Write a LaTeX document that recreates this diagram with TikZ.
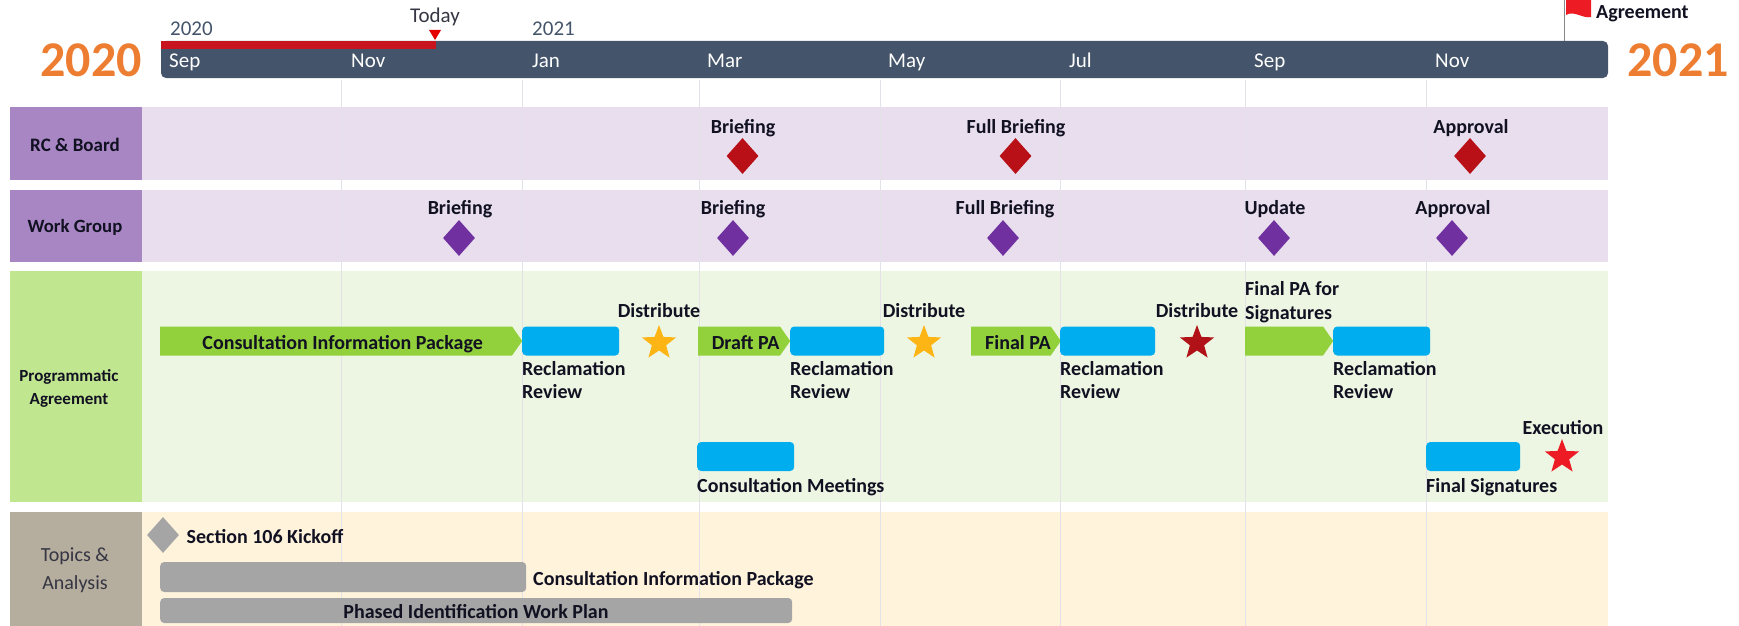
\documentclass[tikz,border=0pt]{standalone}
\usepackage{fontspec}
\setmainfont{Carlito}
\usetikzlibrary{shapes.geometric,shapes.symbols}
\definecolor{barc}{HTML}{44546A}
\definecolor{redbar}{HTML}{C8141E}
\definecolor{yearc}{HTML}{ED7D31}
\definecolor{purl}{HTML}{A886C4}
\definecolor{purr}{HTML}{E8DEEE}
\definecolor{grnl}{HTML}{C1E690}
\definecolor{grnr}{HTML}{EDF6E3}
\definecolor{topl}{HTML}{B5AD9D}
\definecolor{topr}{HTML}{FFF3DC}
\definecolor{gridc}{HTML}{E2E2E8}
\definecolor{blueb}{HTML}{00ADEF}
\definecolor{greena}{HTML}{92D13C}
\definecolor{greyb}{HTML}{A5A5A5}
\definecolor{darkred}{HTML}{B81016}
\definecolor{darkstar}{HTML}{B01218}
\definecolor{vio}{HTML}{7030A0}
\definecolor{gold}{HTML}{FDB515}
\definecolor{brightred}{HTML}{ED1C24}
\definecolor{txt}{HTML}{111122}
\tikzset{
  rowbg/.style={anchor=north west,inner sep=0pt,outer sep=0pt},
  boldt/.style={font=\fontsize{20}{23.3}\selectfont\bfseries,text=txt,inner sep=0pt,text height=16pt,text depth=3pt},
  boldl/.style={boldt,anchor=west,align=left},
  rowlab/.style={font=\fontsize{#1}{23.3}\selectfont\bfseries,text=txt,inner sep=0pt,align=center,text height=16pt,text depth=3pt},
  month/.style={font=\fontsize{21}{24}\selectfont,text=white,inner sep=0pt,anchor=base west},
  yeart/.style={font=\fontsize{21}{24}\selectfont,text=barc,inner sep=0pt,anchor=base west},
  bigyear/.style={font=\fontsize{50}{50}\selectfont\bfseries,text=yearc,inner sep=0pt},
  dia/.style={diamond,aspect=0.89,inner sep=0pt,minimum width=32pt,minimum height=36pt,fill=#1},
  starm/.style={star,star points=5,star point ratio=2.4,inner sep=0pt,minimum size=36pt,fill=#1},
  bluebox/.style={fill=blueb,rounded corners=4pt,inner sep=0pt,minimum height=29pt,anchor=west},
  greenarrow/.style={signal,signal to=east,signal from=nowhere,signal pointer angle=110,fill=greena,
     inner sep=0pt,minimum height=29pt,anchor=west,boldt,text height=20pt},
  greybar/.style={fill=greyb,rounded corners=4pt,inner sep=0pt,anchor=west,boldt},
  gridl/.style={draw=gridc,line width=0.8pt}
}
\begin{document}
\begin{tikzpicture}[x=1pt,y=-1pt]
\useasboundingbox (0,0) rectangle (1739,626);
% rows
\fill[purr] (142,107) rectangle (1608,180);
\fill[purr] (142,190) rectangle (1608,262);
\fill[grnr] (142,271) rectangle (1608,502);
\fill[topr] (142,512) rectangle (1608,626);
\fill[purl] (10,107) rectangle (142,180);
\fill[purl] (10,190) rectangle (142,262);
\fill[grnl] (10,271) rectangle (142,502);
\fill[topl] (10,512) rectangle (142,626);
% grid
\foreach \gx in {341,522.5,699,880.5,1060,1245.5,1426}{\draw[gridl] (\gx,80) -- (\gx,626);}
% row labels
\node[rowlab=19] (lrc) at (75,145) {RC \& Board};
\node[rowlab=18.7] (lwg) at (75,226) {Work Group};
\node[rowlab=17] (lpa) at (69,398) {Programmatic\\Agreement};
\node[font=\fontsize{20}{28}\selectfont,text=txt!85,inner sep=0pt,align=center] (lta) at (75,570) {Topics \&\\Analysis};
% timeline
\coordinate (poletop) at (1564,0);
\coordinate (polebot) at (1564,41);
\draw[draw=gridc!60!black,line width=0.8pt] (poletop) -- (polebot);
\fill[barc,rounded corners=5pt] (161,41) rectangle (1608,78);
\fill[redbar] (161,41) [rounded corners=0pt] rectangle (436,49);
\fill[red!90!black] (429,30) -- (441,30) -- (435,40) -- cycle;
\fill[brightred] (1566,0) -- (1591,0) -- (1591,17) .. controls (1583,19) and (1574,10) .. (1566,15) -- cycle;
\node[boldl] (flagt) at (1596,12) {Agreement};
\node[font=\fontsize{21}{24}\selectfont,text=txt!85,inner sep=0pt] (today) at (435,17) {Today};
\node[yeart] (y20) at (170,36) {2020};
\node[yeart] (y21) at (532,36) {2021};
\node[bigyear] (b20) at (91,60) {2020};
\node[bigyear] (b21) at (1678,60) {2021};
\node[month] (m1) at (169,67) {Sep};
\node[month] (m2) at (351,67) {Nov};
\node[month] (m3) at (532,67) {Jan};
\node[month] (m4) at (707,67) {Mar};
\node[month] (m5) at (888,67) {May};
\node[month] (m6) at (1069,67) {Jul};
\node[month] (m7) at (1254,67) {Sep};
\node[month] (m8) at (1435,67) {Nov};
% RC row
\node[boldt] (rc1) at (743,127) {Briefing};
\node[boldt] (rc2) at (1016,127) {Full Briefing};
\node[boldt] (rc3) at (1471,127) {Approval};
\node[dia=darkred] (rd1) at (742.5,156) {};
\node[dia=darkred] (rd2) at (1015.5,156) {};
\node[dia=darkred] (rd3) at (1470,156) {};
% WG row
\node[boldt] (wg1) at (460,208) {Briefing};
\node[boldt] (wg2) at (733,208) {Briefing};
\node[boldt] (wg3) at (1005,208) {Full Briefing};
\node[boldt] (wg4) at (1275,208) {Update};
\node[boldt] (wg5) at (1453,208) {Approval};
\node[dia=vio] (wd1) at (459,238) {};
\node[dia=vio] (wd2) at (733,238) {};
\node[dia=vio] (wd3) at (1003,238) {};
\node[dia=vio] (wd4) at (1274,238) {};
\node[dia=vio] (wd5) at (1452,238) {};
% Programmatic agreement
\node[greenarrow,minimum width=362pt] (g1) at (160,341) {\hspace*{13pt}Consultation Information Package};
\node[greenarrow,minimum width=92pt] (g2) at (698,341) {\hspace*{13pt}Draft PA};
\node[greenarrow,minimum width=89pt] (g3) at (971,341) {\hspace*{14pt}Final PA};
\node[greenarrow,minimum width=88pt] (g4) at (1245,341) {};
\node[bluebox,minimum width=97pt] (b1) at (522,341) {};
\node[bluebox,minimum width=94pt] (b2) at (790,341) {};
\node[bluebox,minimum width=95pt] (b3) at (1060,341) {};
\node[bluebox,minimum width=97pt] (b4) at (1333,341) {};
\node[bluebox,minimum width=97pt] (b5) at (697,456.5) {};
\node[bluebox,minimum width=94pt] (b6) at (1426,456.5) {};
\node[boldl] (r1) at (522,392) {Reclamation\\Review};
\node[boldl] (r2) at (790,392) {Reclamation\\Review};
\node[boldl] (r3) at (1060,392) {Reclamation\\Review};
\node[boldl] (r4) at (1333,392) {Reclamation\\Review};
\node[boldl] (fps) at (1245,312.5) {Final PA for\\Signatures};
\node[boldt] (d1) at (659,311) {Distribute};
\node[boldt] (d2) at (924,311) {Distribute};
\node[boldt] (d3) at (1197,311) {Distribute};
\node[starm=gold] (s1) at (659,343) {};
\node[starm=gold] (s2) at (924,343) {};
\node[starm=darkstar] (s3) at (1197,343) {};
\node[boldl] (cm) at (697,486) {Consultation Meetings};
\node[boldl] (fs) at (1426,486) {Final Signatures};
\node[boldt] (ex) at (1563,428) {Execution};
\node[starm=brightred] (s4) at (1562,457) {};
% Topics
\node[dia=greyb] (kd) at (163,535) {};
\node[boldl] (kt) at (186.5,537) {Section 106 Kickoff};
\node[greybar,minimum width=366pt,minimum height=30pt] (gb1) at (160,577) {};
\node[boldl] (gt1) at (533,579) {Consultation Information Package};
\node[greybar,minimum width=632pt,minimum height=25pt] (gb2) at (160,610.5) {};
\node[boldt] (gt2) at (476,612) {Phased Identification Work Plan};
\end{tikzpicture}
\end{document}
